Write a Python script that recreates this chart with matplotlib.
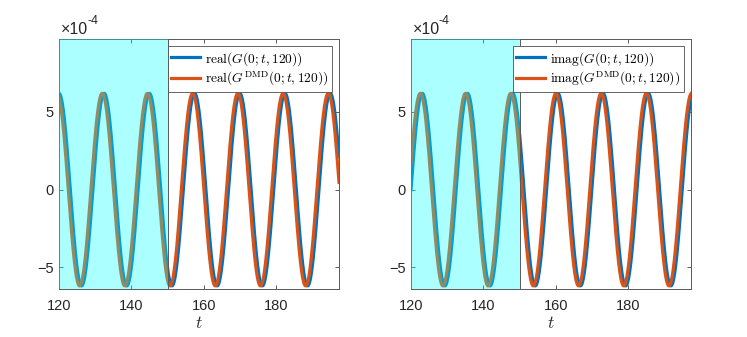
import numpy as np
import matplotlib.pyplot as plt
from matplotlib.patches import Rectangle

plt.rcParams['font.family'] = ['Liberation Sans', 'DejaVu Sans']
plt.rcParams['mathtext.fontset'] = 'cm'

# values (y in units of 1e-4)
t_start, t_end = 120, 197.3
train_end = 150
amp = 6.2
period = 12.48
peak_exact = 120.0   # G(0;t,120): first peak of the real part
peak_dmd = 119.45    # G^DMD(0;t,120)
y_lim = (-6.4, 9.7)
x_ticks = [120, 140, 160, 180]
y_ticks = [-5, 0, 5]

blue = (0, 0.447, 0.741)
orange = (0.85, 0.325, 0.098)

t = np.linspace(t_start, t_end, 1500)

def green(t, t0):
    ph = 2 * np.pi * (t - t0) / period
    return amp * np.cos(ph), amp * np.sin(ph)

re_ex, im_ex = green(t, peak_exact)
re_dmd, im_dmd = green(t, peak_dmd)

panels = [
    ('real', re_ex, re_dmd, 59),
    ('imag', im_ex, im_dmd, 411),
]

fig = plt.figure(figsize=(7.47, 3.37), dpi=100)
W, H = 747, 337

for name, y_ex, y_dmd, left in panels:
    ax = fig.add_axes([left / W, (H - 289) / H, 280 / W, 250 / H])
    ax.plot(t, y_ex, color=blue, lw=2.3,
            label=r'$\mathrm{%s}(G(0;t,120))$' % name)
    ax.plot(t, y_dmd, color=orange, lw=2.3,
            label=r'$\mathrm{%s}(G^{\mathrm{DMD}}(0;t,120))$' % name)
    ax.add_patch(Rectangle((t_start, y_lim[0]), train_end - t_start,
                           y_lim[1] - y_lim[0], facecolor='cyan', alpha=0.33,
                           edgecolor='none', zorder=3))
    ax.axvline(train_end, color='0.35', lw=0.7, zorder=3)
    ax.set_xlim(t_start, t_end)
    ax.set_ylim(*y_lim)
    ax.set_xticks(x_ticks)
    ax.set_yticks(y_ticks)
    ax.tick_params(direction='in', top=True, right=True, length=3,
                   width=0.6, color='0.25', labelsize=10.5, labelcolor='0.15')
    ax.tick_params(axis='x', pad=7)
    ax.tick_params(axis='y', pad=4)
    for s in ax.spines.values():
        s.set_color('0.35')
        s.set_linewidth(0.7)
    ax.set_xlabel(r'$t$', fontsize=12.5, labelpad=2, color='0.15')
    ax.text(0.005, 1.01, '×10', transform=ax.transAxes, fontsize=11.5,
            color='0.15', ha='left', va='bottom')
    ax.text(0.1, 1.05, '-4', transform=ax.transAxes, fontsize=9,
            color='0.15', ha='left', va='bottom')
    leg = ax.legend(loc='upper right', fontsize=9.7, handlelength=2.15,
                    borderaxespad=0.55, borderpad=0.25, labelspacing=0.2,
                    handletextpad=0.35, fancybox=False, framealpha=1)
    leg.get_frame().set_edgecolor('0.3')
    leg.get_frame().set_linewidth(0.6)
    leg.set_zorder(5)

fig.savefig('out.png', dpi=100)
